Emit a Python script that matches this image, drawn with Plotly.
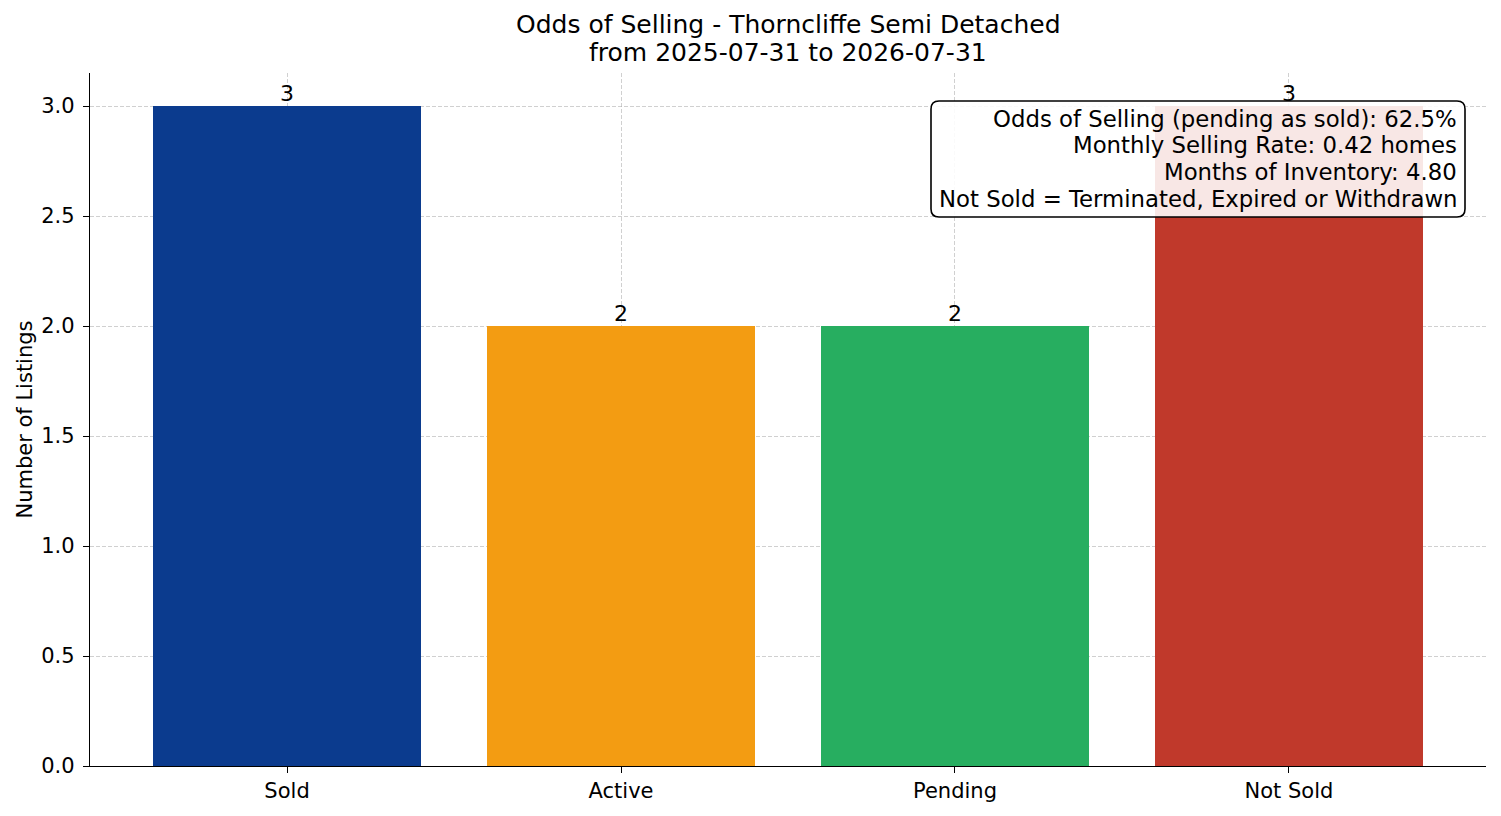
import plotly.graph_objects as go

categories = ["Sold", "Active", "Pending", "Not Sold"]
counts = [3, 2, 2, 3]
bar_colors = ["#0b3b8e", "#f39c12", "#27ae60", "#c0392b"]
title_lines = ["Odds of Selling - Thorncliffe Semi Detached", "from 2025-07-31 to 2026-07-31"]
info_lines = [
    "Odds of Selling (pending as sold): 62.5%",
    "Monthly Selling Rate: 0.42 homes",
    "Months of Inventory: 4.80",
    "Not Sold = Terminated, Expired or Withdrawn",
]
y_ticks = [0.0, 0.5, 1.0, 1.5, 2.0, 2.5, 3.0]

FONT = "DejaVu Sans"
GRID = "rgba(170,170,170,0.55)"

# plotting area in reference pixels (left, right, top, bottom)
PL, PR, PT, PB = 90, 1486, 73, 766
PW, PH = PR - PL, PB - PT
OFF = 8  # page offset applied by the browser body margin


def px_to_paper_x(px):
    return (px - PL) / PW


def px_to_paper_y(py):
    return (PB - py) / PH


xs = list(range(len(categories)))

fig = go.Figure()
fig.add_trace(go.Bar(
    x=xs,
    y=counts,
    width=0.8,
    marker=dict(color=bar_colors, line=dict(width=0)),
    hoverinfo="x+y",
))

# value labels above bars
for xi, c in zip(xs, counts):
    fig.add_annotation(
        x=xi, y=c, xref="x", yref="y", text=str(c), showarrow=False,
        xanchor="center", yanchor="bottom", borderpad=0, yshift=-1,
        font=dict(family=FONT, size=22, color="black"),
    )

fig.update_layout(
    width=1501, height=816,
    paper_bgcolor="white", plot_bgcolor="white",
    margin=dict(l=PL - OFF, r=1501 + OFF - PR, t=PT - OFF, b=816 + OFF - PB),
    showlegend=False,
    bargap=0,
    xaxis=dict(
        range=[-0.59, 3.59],
        tickmode="array", tickvals=xs, ticktext=categories,
        tickfont=dict(family=FONT, size=21, color="black"),
        showline=True, linecolor="black", linewidth=1.3,
        ticks="outside", ticklen=6, tickcolor="black", tickwidth=1.2,
        showgrid=True, gridcolor=GRID, griddash="4px,2px", gridwidth=0.8,
        zeroline=False, layer="above traces",
    ),
    yaxis=dict(
        range=[0, 3.15],
        tickmode="array", tickvals=y_ticks, ticktext=[f"{v:.1f}" for v in y_ticks],
        tickfont=dict(family=FONT, size=21, color="black"),
        ticklabelstandoff=4,
        title=dict(text="Number of Listings", font=dict(family=FONT, size=21, color="black"), standoff=2),
        showline=True, linecolor="black", linewidth=1.3,
        ticks="outside", ticklen=6, tickcolor="black", tickwidth=1.2,
        showgrid=True, gridcolor=GRID, griddash="4px,2px", gridwidth=0.8,
        zeroline=False, layer="above traces",
    ),
)

# title as two centred lines
for line, py in zip(title_lines, [25, 53]):
    fig.add_annotation(
        xref="paper", yref="paper", x=0.5, y=px_to_paper_y(py),
        xanchor="center", yanchor="middle", text=line, showarrow=False,
        font=dict(family=FONT, size=25, color="black"),
    )

# rounded info box
x0, x1 = px_to_paper_x(931), px_to_paper_x(1465)
y0, y1 = px_to_paper_y(217), px_to_paper_y(101)
rx, ry = 8 / PW, 8 / PH
path = (
    f"M {x0+rx},{y1} L {x1-rx},{y1} Q {x1},{y1} {x1},{y1-ry} "
    f"L {x1},{y0+ry} Q {x1},{y0} {x1-rx},{y0} "
    f"L {x0+rx},{y0} Q {x0},{y0} {x0},{y0+ry} "
    f"L {x0},{y1-ry} Q {x0},{y1} {x0+rx},{y1} Z"
)
fig.add_shape(
    type="path", path=path, xref="paper", yref="paper",
    fillcolor="rgba(255,255,255,0.88)", line=dict(color="black", width=1.6),
    layer="above",
)

for line, py in zip(info_lines, [118.6, 145.4, 172.2, 199.0]):
    fig.add_annotation(
        xref="paper", yref="paper", x=px_to_paper_x(1458), y=px_to_paper_y(py),
        xanchor="right", yanchor="middle", text=line, align="right", showarrow=False,
        font=dict(family=FONT, size=22.8, color="black"), borderpad=0,
    )

fig.write_html("out.html")
